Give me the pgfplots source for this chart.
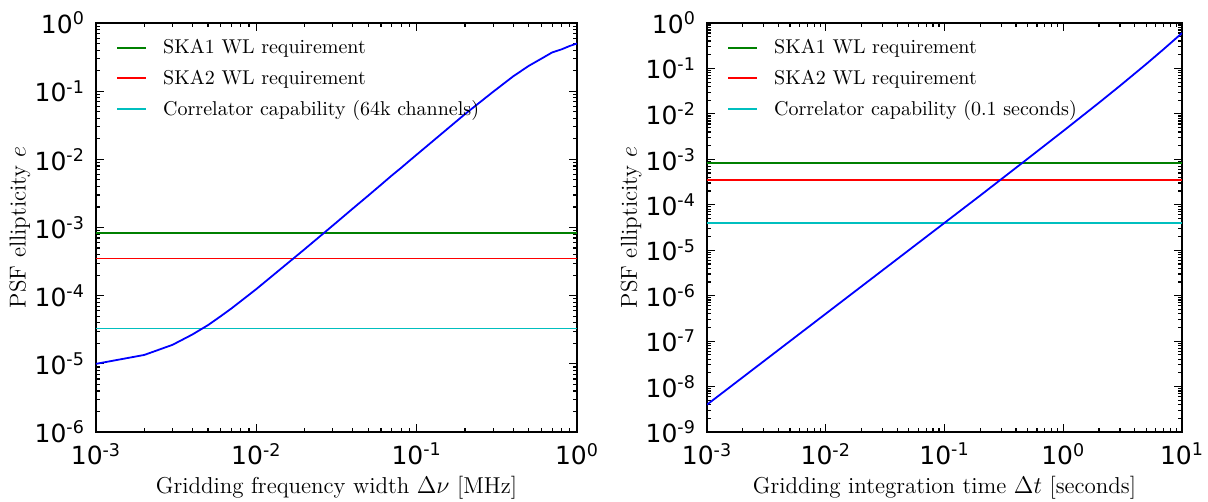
\documentclass[border=0pt]{standalone}
\usepackage{fontspec}
\usepackage{pgfplots}
\pgfplotsset{compat=1.18}
\newfontfamily\dejavu{DejaVu Sans}
\definecolor{mplgreen}{rgb}{0,0.5,0}
\definecolor{mplred}{rgb}{1,0,0}
\definecolor{mplcyan}{rgb}{0,0.75,0.75}
\definecolor{mplblue}{rgb}{0,0,1}

\pgfplotsset{
  legend image code/.code={\draw[#1] (0pt,0pt) -- (14.5pt,0pt);},
}

\begin{document}
\begin{tikzpicture}
\begin{axis}[xmode=log, ymode=log,
  scale only axis, width=240.5pt, height=204.5pt,
  at={(0pt,0pt)}, anchor=south west,
  axis line style={line width=0.9pt},
  every tick/.style={black, line width=0.6pt},
  major tick length=4pt, minor tick length=2pt,
  tick align=inside,
  tick label style={font=\dejavu\fontsize{12.5}{14}\selectfont},
  xticklabel style={yshift=-2pt},
  yticklabel style={xshift=-2pt},
  label style={font=\fontsize{11.5}{14}\selectfont},
  xlabel style={at={(rel axis cs:0.5,0)}, anchor=center, yshift=-28pt},
  ylabel style={at={(axis description cs:-0.158,0.5)}, anchor=center, rotate=0},
  legend style={draw=none, fill=none, at={(rel axis cs:0,1)}, anchor=north west,
    xshift=7pt, yshift=-4pt, font=\fontsize{10}{11}\selectfont, row sep=2.5pt,
    /tikz/every odd column/.append style={column sep=6pt}},
  legend cell align=left,
  xmin=1e-3, xmax=1, ymin=1e-6, ymax=1,
  xtick={1e-3,1e-2,1e-1,1},
  xticklabels={10\textsuperscript{-3},10\textsuperscript{-2},10\textsuperscript{-1},10\textsuperscript{0}},
  ytick={1e-6,1e-5,1e-4,1e-3,1e-2,1e-1,1},
  yticklabels={10\textsuperscript{-6},10\textsuperscript{-5},10\textsuperscript{-4},10\textsuperscript{-3},10\textsuperscript{-2},10\textsuperscript{-1},10\textsuperscript{0}},
  xlabel={Gridding frequency width $\Delta\nu$ [MHz]},
  ylabel={PSF ellipticity $e$},
]
\addplot[mplgreen, line width=0.9pt] coordinates {(1e-3,8.3e-4) (1,8.3e-4)};
\addlegendentry{SKA1 WL requirement}
\addplot[mplred, line width=0.9pt] coordinates {(1e-3,3.5e-4) (1,3.5e-4)};
\addlegendentry{SKA2 WL requirement}
\addplot[mplcyan, line width=0.9pt] coordinates {(1e-3,3.3e-5) (1,3.3e-5)};
\addlegendentry{Correlator capability (64k channels)}
\addplot[mplblue, line width=0.9pt, forget plot] coordinates {
(0.001,1.0e-5) (0.002,1.35e-5) (0.003,1.9e-5) (0.004,2.7e-5) (0.005,3.7e-5)
(0.006,5.0e-5) (0.007,6.5e-5) (0.008,8.3e-5) (0.009,1.03e-4) (0.01,1.25e-4)
(0.02,4.8e-4) (0.03,1.07e-3) (0.04,1.9e-3) (0.05,2.95e-3) (0.06,4.25e-3)
(0.07,5.8e-3) (0.08,7.5e-3) (0.09,9.5e-3) (0.1,1.17e-2) (0.2,4.6e-2)
(0.3,9.8e-2) (0.4,0.165) (0.5,0.235) (0.6,0.30) (0.7,0.37) (0.8,0.41)
(0.9,0.46) (1.0,0.50)};
\end{axis}

\begin{axis}[xmode=log, ymode=log,
  scale only axis, width=237.5pt, height=204.5pt,
  at={(305.5pt,0pt)}, anchor=south west,
  axis line style={line width=0.9pt},
  every tick/.style={black, line width=0.6pt},
  major tick length=4pt, minor tick length=2pt,
  tick align=inside,
  tick label style={font=\dejavu\fontsize{12.5}{14}\selectfont},
  xticklabel style={yshift=-2pt},
  yticklabel style={xshift=-2pt},
  label style={font=\fontsize{11.5}{14}\selectfont},
  xlabel style={at={(rel axis cs:0.5,0)}, anchor=center, yshift=-28pt},
  ylabel style={at={(axis description cs:-0.16,0.5)}, anchor=center, rotate=0},
  legend style={draw=none, fill=none, at={(rel axis cs:0,1)}, anchor=north west,
    xshift=7pt, yshift=-4pt, font=\fontsize{10}{11}\selectfont, row sep=2.5pt,
    /tikz/every odd column/.append style={column sep=6pt}},
  legend cell align=left,
  xmin=1e-3, xmax=10, ymin=1e-9, ymax=1,
  xtick={1e-3,1e-2,1e-1,1,10},
  xticklabels={10\textsuperscript{-3},10\textsuperscript{-2},10\textsuperscript{-1},10\textsuperscript{0},10\textsuperscript{1}},
  ytick={1e-9,1e-8,1e-7,1e-6,1e-5,1e-4,1e-3,1e-2,1e-1,1},
  yticklabels={10\textsuperscript{-9},10\textsuperscript{-8},10\textsuperscript{-7},10\textsuperscript{-6},10\textsuperscript{-5},10\textsuperscript{-4},10\textsuperscript{-3},10\textsuperscript{-2},10\textsuperscript{-1},10\textsuperscript{0}},
  xlabel={Gridding integration time $\Delta t$ [seconds]},
  ylabel={PSF ellipticity $e$},
]
\addplot[mplgreen, line width=0.9pt] coordinates {(1e-3,8.3e-4) (10,8.3e-4)};
\addlegendentry{SKA1 WL requirement}
\addplot[mplred, line width=0.9pt] coordinates {(1e-3,3.5e-4) (10,3.5e-4)};
\addlegendentry{SKA2 WL requirement}
\addplot[mplcyan, line width=0.9pt] coordinates {(1e-3,4.0e-5) (10,4.0e-5)};
\addlegendentry{Correlator capability (0.1 seconds)}
\addplot[mplblue, line width=0.9pt, forget plot] coordinates {
(0.001,4.0e-9) (0.002,1.6e-8) (0.005,1.0e-7) (0.01,4.0e-7) (0.02,1.6e-6)
(0.05,1.0e-5) (0.1,4.0e-5) (0.2,1.6e-4) (0.5,1.025e-3) (1,4.2e-3)
(2,1.76e-2) (3,4.14e-2) (5,0.125) (7,0.265) (10,0.6)};
\end{axis}
\pgfresetboundingbox
\path[use as bounding box] (-48pt,-35pt) rectangle (556pt,216pt);
\end{tikzpicture}
\end{document}
